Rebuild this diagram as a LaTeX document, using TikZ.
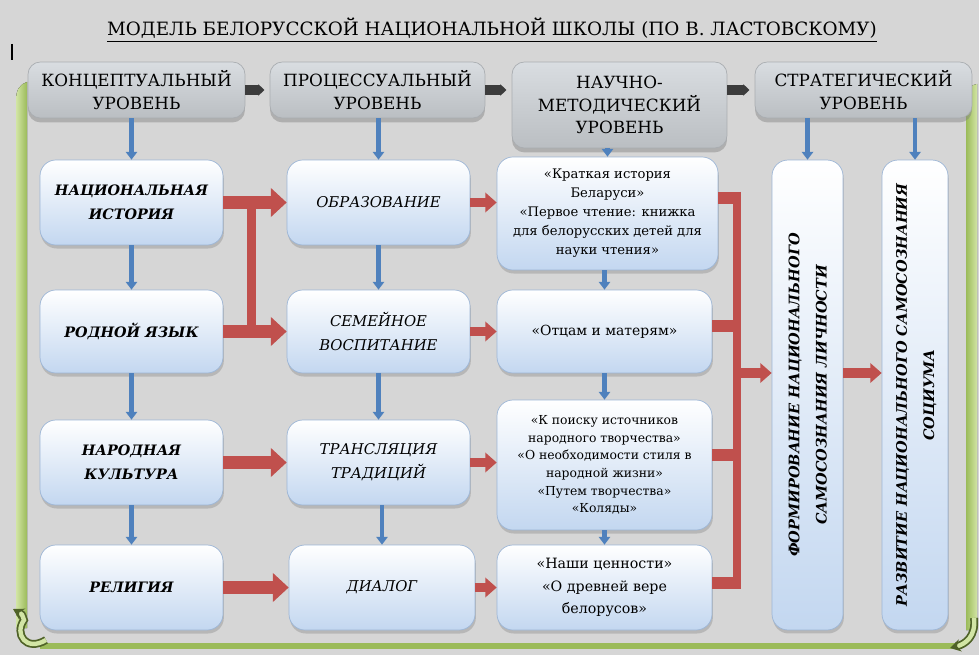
\documentclass[tikz,border=0pt]{standalone}
\usepackage{fontspec}
\setmainfont{DejaVu Serif}[Scale=0.87]
\usetikzlibrary{
    arrows.meta,
    positioning,
    shadows,
    calc
}

\definecolor{bggray}{HTML}{D6D6D6}
\definecolor{headtop}{HTML}{D9DDE1}
\definecolor{headbot}{HTML}{BABEC2}
\definecolor{headedge}{HTML}{A9ADB1}
\definecolor{cardblue}{HTML}{C3D7F0}
\definecolor{cardedge}{HTML}{9DB6D6}
\definecolor{arrowblue}{HTML}{4F81BD}
\definecolor{redfill}{HTML}{C0504D}
\definecolor{arrowdark}{HTML}{3C3C3C}
\definecolor{framegreen}{HTML}{9BBB59}
\definecolor{framelight}{HTML}{D2E5A5}
\definecolor{curlgreen}{HTML}{4F6228}

\tikzset{
    level/.style={draw=headedge, rounded corners=7pt,
        top color=headtop, bottom color=headbot,
        drop shadow={shadow xshift=0pt,shadow yshift=-2.5pt,opacity=0.45},
        align=center, inner sep=2pt,
        font=\fontsize{11}{12.8}\selectfont},
    card/.style={draw=cardedge, rounded corners=9pt,
        top color=white, bottom color=cardblue,
        drop shadow={shadow xshift=0.5pt,shadow yshift=-2pt,opacity=0.35},
        align=center, inner sep=2pt},
    idea/.style={card, font=\fontsize{9.4}{13.6}\selectfont\bfseries\itshape},
    proc/.style={card, font=\fontsize{9.7}{13.6}\selectfont\itshape},
    work/.style={card, font=\fontsize{8.1}{10}\selectfont},
    aim/.style={card, font=\fontsize{9.5}{12}\selectfont\bfseries\itshape},
    down/.style={draw=arrowblue, line width=2.4pt,
        -{Triangle[width=6.5pt,length=4.5pt]}},
    next/.style={draw=arrowdark, line width=5.5pt, shorten >=3pt,
        -{Triangle[width=6.5pt,length=3.5pt]}},
    push/.style={draw=redfill, line width=7.5pt,
        -{Triangle[width=16pt,length=9pt]}},
    pushsmall/.style={draw=redfill, line width=5.5pt,
        -{Triangle[width=11pt,length=6.5pt]}},
    redbar/.style={draw=redfill, line width=5pt},
    redstub/.style={draw=redfill, line width=7pt},
    curl/.style={draw=curlgreen, line width=1pt,
        double=framelight, double distance=2.5pt,
        -{Stealth[length=6pt,width=7pt]}}
}

\begin{document}
\begin{tikzpicture}[x=0.02cm,y=-0.02cm]

% Background
\fill[bggray] (0,0) rectangle (979,655);
\useasboundingbox (0,0) rectangle (979,655);
\draw[line width=1pt] (12,44) -- (12,60);

% Frame
\fill[left color=framelight, right color=framegreen]
(16,628) -- (16,100) .. controls (16,90) and (20,84) .. (27,82) -- (27,628) -- cycle;
\fill[left color=framegreen, right color=framelight]
(966,630) -- (966,96) .. controls (967,88) and (971,85) .. (977,84) -- (977,630) -- cycle;
\fill[framegreen] (40,643) rectangle (958,649);
\draw[curl] (46,640) .. controls (26,652) and (14,634) .. (24,620) .. controls (22,614) .. (13,609);
\draw[curl] (974,618) .. controls (976,636) and (966,644) .. (950,648);

% Title
\node[font=\fontsize{12}{14}\selectfont] (title) at (492,30)
    {\underline{МОДЕЛЬ БЕЛОРУССКОЙ НАЦИОНАЛЬНОЙ ШКОЛЫ (ПО В. ЛАСТОВСКОМУ)}};

% Levels
\node[level, minimum width=4.34cm, minimum height=1.12cm] (hk) at (136.5,90)
    {КОНЦЕПТУАЛЬНЫЙ\\УРОВЕНЬ};
\node[level, minimum width=4.3cm, minimum height=1.12cm] (hp) at (377.5,90)
    {ПРОЦЕССУАЛЬНЫЙ\\УРОВЕНЬ};
\node[level, minimum width=4.3cm, minimum height=1.72cm] (hn) at (619.5,105)
    {НАУЧНО-\\МЕТОДИЧЕСКИЙ\\УРОВЕНЬ};
\node[level, minimum width=4.34cm, minimum height=1.12cm] (hs) at (863.5,90)
    {СТРАТЕГИЧЕСКИЙ\\УРОВЕНЬ};

\draw[next] (hk.east) -- (hp.west);
\draw[next] (hp.east) -- (hp.east -| hn.west);
\draw[next] (hn.east |- hs.west) -- (hs.west);

% Concepts
\node[idea, minimum width=3.66cm, minimum height=1.7cm] (l1) at (131.5,202.5)
    {НАЦИОНАЛЬНАЯ\\ИСТОРИЯ};
\node[idea, minimum width=3.66cm, minimum height=1.66cm] (l2) at (131.5,331.5)
    {РОДНОЙ ЯЗЫК};
\node[idea, minimum width=3.66cm, minimum height=1.7cm] (l3) at (131.5,462.5)
    {НАРОДНАЯ\\КУЛЬТУРА};
\node[idea, minimum width=3.66cm, minimum height=1.7cm] (l4) at (131.5,587.5)
    {РЕЛИГИЯ};

% Processes
\node[proc, minimum width=3.66cm, minimum height=1.7cm] (m1) at (378.5,202.5)
    {ОБРАЗОВАНИЕ};
\node[proc, minimum width=3.66cm, minimum height=1.66cm] (m2) at (378.5,331.5)
    {СЕМЕЙНОЕ\\ВОСПИТАНИЕ};
\node[proc, minimum width=3.66cm, minimum height=1.7cm] (m3) at (378.5,462.5)
    {ТРАНСЛЯЦИЯ\\ТРАДИЦИЙ};
\node[proc, minimum width=3.72cm, minimum height=1.7cm] (m4) at (382,587.5)
    {ДИАЛОГ};

% Works
\node[work, font=\fontsize{8.6}{10.8}\selectfont,
      minimum width=4.42cm, minimum height=2.26cm] (t1) at (607.5,213.5)
    {«Краткая история\\Беларуси»\\«Первое чтение: книжка\\для белорусских детей для\\науки чтения»};
\node[work, font=\fontsize{9.1}{12}\selectfont,
      minimum width=4.3cm, minimum height=1.66cm] (t2) at (604.5,331.5)
    {«Отцам и матерям»};
\node[work, minimum width=4.3cm, minimum height=2.6cm] (t3) at (604.5,465)
    {«К поиску источников\\народного творчества»\\«О необходимости стиля в\\народной жизни»\\«Путем творчества»\\«Коляды»};
\node[work, font=\fontsize{9.3}{13}\selectfont,
      minimum width=4.3cm, minimum height=1.7cm] (t4) at (604.5,587.5)
    {«Наши ценности»\\«О древней вере\\белорусов»};

% Strategy
\node[aim, minimum width=1.42cm, minimum height=9.4cm] (f) at (807.5,395)
    {\rotatebox{90}{\renewcommand\arraystretch{1.3}%
     \begin{tabular}{@{}c@{}}ФОРМИРОВАНИЕ НАЦИОНАЛЬНОГО\\САМОСОЗНАНИЯ ЛИЧНОСТИ\end{tabular}}};
\node[aim, minimum width=1.32cm, minimum height=9.4cm] (r) at (915,395)
    {\rotatebox{90}{\renewcommand\arraystretch{1.3}%
     \begin{tabular}{@{}c@{}}РАЗВИТИЕ НАЦИОНАЛЬНОГО САМОСОЗНАНИЯ\\СОЦИУМА\end{tabular}}};

% Blue arrows
\draw[down] (l1.north |- hk.south) -- (l1.north);
\draw[down] (m1.north |- hp.south) -- (m1.north);
\draw[down] (t1.north |- hn.south) -- (t1.north);
\draw[down] (f.north |- hs.south) -- (f.north);
\draw[down] (r.north |- hs.south) -- (r.north);
\foreach \a/\b in {l1/l2,l2/l3,l3/l4,m1/m2,m2/m3,m3/m4,t1/t2,t2/t3,t3/t4}{
    \draw[down] (\b.north |- \a.south) -- (\b.north);
}

% Red arrows
\foreach \a/\b in {l1/m1,l2/m2,l3/m3,l4/m4}{
    \draw[push] (\a.east) -- (\b.west);
}
\coordinate (jl) at ($(l1.east)!0.44!(m1.west)$);
\draw[redbar] (jl) -- (jl |- l2.east);
\foreach \a/\b in {m1/t1,m2/t2,m3/t3,m4/t4}{
    \draw[pushsmall] (\a.east) -- (\a.east -| \b.west);
}

% Right bar
\coordinate (rb1) at (737,198);
\coordinate (rb2) at (737,326);
\coordinate (rb3) at (737,455);
\coordinate (rb4) at (737,583);
\coordinate (rbm) at (737,373);
\foreach \t/\c in {t1/rb1,t2/rb2,t3/rb3,t4/rb4}{
    \draw[redstub] (\t.east |- \c) -- ([xshift=1pt]\c);
}
\draw[redbar] ([yshift=3.5pt]rb1) -- ([yshift=-3.5pt]rb4);
\draw[pushsmall] (rbm) -- (rbm -| f.west);
\draw[pushsmall] (f.east |- rbm) -- (r.west |- rbm);

\end{tikzpicture}
\end{document}
